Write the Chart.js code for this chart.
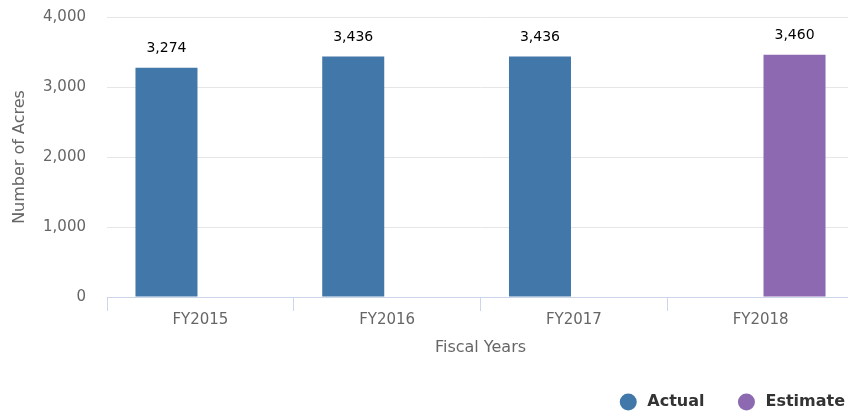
<!DOCTYPE html>
<html>
<head>
<meta charset="utf-8">
<script src="https://cdn.jsdelivr.net/npm/chart.js@4.4.1/dist/chart.umd.min.js"></script>
<style>
  html, body { margin: 0; padding: 0; overflow: hidden; background: #fff; }
  #wrap { width: 856px; height: 411px; position: relative; }
</style>
</head>
<body>
<div id="wrap"><canvas id="c"></canvas></div>
<script>
const categories = ['FY2015', 'FY2016', 'FY2017', 'FY2018'];
const actualValues = [3274, 3436, 3436, null];
const estimateValues = [null, null, null, 3460];
const seriesNames = ['Actual', 'Estimate'];
const seriesColors = ['#4277a9', '#8c69b0'];
const yTicks = [0, 1000, 2000, 3000, 4000];

const FONT = "'DejaVu Sans', Verdana, sans-serif";
const fmt = v => v.toLocaleString('en-US');

const valueLabels = {
  id: 'valueLabels',
  afterDatasetsDraw(chart) {
    const ctx = chart.ctx;
    ctx.save();
    ctx.font = '14px ' + FONT;
    ctx.fillStyle = '#000';
    ctx.textAlign = 'center';
    ctx.textBaseline = 'middle';
    chart.data.datasets.forEach((ds, i) => {
      const meta = chart.getDatasetMeta(i);
      meta.data.forEach((bar, j) => {
        const v = ds.data[j];
        if (v === null || v === undefined) return;
        ctx.fillText(fmt(v), bar.x, bar.y - 19);
      });
    });
    ctx.restore();
  }
};

const customLegend = {
  id: 'customLegend',
  afterDraw(chart) {
    const ctx = chart.ctx;
    ctx.save();
    ctx.font = 'bold 16px ' + FONT;
    ctx.textBaseline = 'middle';
    ctx.textAlign = 'left';
    const cy = 402;
    const r = 8.5;
    const textGap = 19;
    const itemGap = 33.5;
    let xEnd = 845;
    const items = chart.data.datasets.map(d => ({ text: d.label, color: d.backgroundColor }));
    const pos = [];
    for (let i = items.length - 1; i >= 0; i--) {
      const w = ctx.measureText(items[i].text).width;
      const tx = xEnd - w;
      const cx = tx - textGap;
      pos[i] = { tx, cx };
      xEnd = cx - r - itemGap;
    }
    items.forEach((it, i) => {
      ctx.fillStyle = it.color;
      ctx.beginPath();
      ctx.arc(pos[i].cx, cy, r, 0, Math.PI * 2);
      ctx.fill();
      ctx.fillStyle = '#333';
      ctx.fillText(it.text, pos[i].tx, cy);
    });
    ctx.restore();
  }
};

new Chart(document.getElementById('c'), {
  type: 'bar',
  data: {
    labels: categories,
    datasets: [
      { label: seriesNames[0], data: actualValues, backgroundColor: seriesColors[0] },
      { label: seriesNames[1], data: estimateValues, backgroundColor: seriesColors[1] }
    ]
  },
  options: {
    responsive: true,
    maintainAspectRatio: false,
    animation: false,
    devicePixelRatio: 1,
    categoryPercentage: 0.726,
    barPercentage: 0.915,
    layout: { padding: { top: 17, right: 2, bottom: 54, left: 0 } },
    plugins: {
      legend: { display: false },
      tooltip: { enabled: false }
    },
    scales: {
      x: {
        offset: true,
        afterFit: s => { s.height = 60; },
        grid: { drawOnChartArea: false, drawTicks: true, tickLength: 14, color: '#ccd6eb' },
        border: { display: true, color: '#ccd6eb', width: 1 },
        ticks: { padding: 0, color: '#666', font: { family: FONT, size: 15 } },
        title: { display: true, text: 'Fiscal Years', color: '#666', font: { family: FONT, size: 16 }, padding: { top: 9, bottom: 0 } }
      },
      y: {
        min: 0,
        max: 4000,
        afterFit: s => { s.width = 107; },
        afterBuildTicks: s => { s.ticks = yTicks.map(v => ({ value: v })); },
        grid: { color: '#e6e6e6', drawTicks: true, tickLength: 21, tickColor: 'rgba(0,0,0,0)' },
        border: { display: false },
        ticks: { padding: 0, color: '#666', font: { family: FONT, size: 15 }, callback: v => fmt(v) },
        title: { display: true, text: 'Number of Acres', color: '#666', font: { family: FONT, size: 16 }, padding: { top: 10, bottom: 0 } }
      }
    }
  },
  plugins: [valueLabels, customLegend]
});
</script>
</body>
</html>
